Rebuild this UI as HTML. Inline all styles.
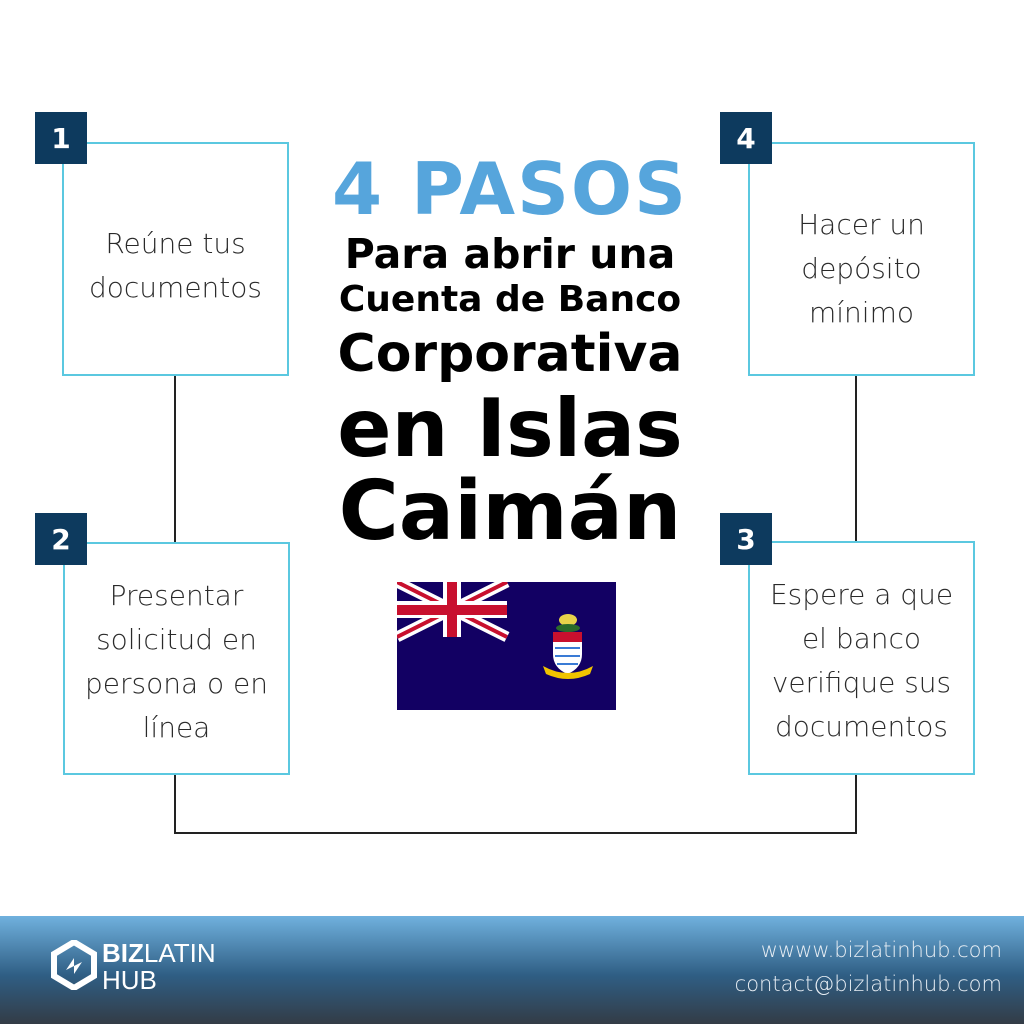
<!DOCTYPE html>
<html><head><meta charset="utf-8"><style>
body{margin:0;width:1024px;height:1024px;background:#fff;position:relative;overflow:hidden;font-family:"DejaVu Sans","Liberation Sans",sans-serif}
.box{position:absolute;border:2px solid #5bc8e0;box-sizing:border-box;display:flex;align-items:center;justify-content:center;text-align:center;color:#2a2a2a;font-size:28px;line-height:44px;font-weight:300;padding-top:14px}
.badge{position:absolute;width:52px;height:52px;background:#0d3a5e;color:#fff;font-weight:bold;font-size:28px;display:flex;align-items:center;justify-content:center}
.ln{position:absolute;background:#222}
.t{position:absolute;left:260px;width:500px;text-align:center;font-weight:bold;color:#000;white-space:nowrap;line-height:1.16}
.foot{position:absolute;left:0;top:916px;width:1024px;height:108px;background:linear-gradient(#70b1de,#2f5e84 55%,#333c46)}
</style></head><body>
<div class="ln" style="left:174px;top:376px;width:2px;height:166px"></div>
<div class="ln" style="left:855px;top:376px;width:2px;height:166px"></div>
<div class="ln" style="left:174px;top:775px;width:2px;height:59px"></div>
<div class="ln" style="left:855px;top:775px;width:2px;height:59px"></div>
<div class="ln" style="left:174px;top:832px;width:683px;height:2px"></div>

<div class="box" style="left:62px;top:142px;width:227px;height:234px">Reúne tus<br>documentos</div>
<div class="box" style="left:63px;top:542px;width:227px;height:233px;padding-top:6px">Presentar<br>solicitud en<br>persona o en<br>línea</div>
<div class="box" style="left:748px;top:142px;width:227px;height:234px;padding-top:20px">Hacer un<br>depósito<br>mínimo</div>
<div class="box" style="left:748px;top:541px;width:227px;height:234px;padding-top:6px">Espere a que<br>el banco<br>verifique sus<br>documentos</div>
<div class="badge" style="left:35px;top:112px">1</div>
<div class="badge" style="left:35px;top:513px">2</div>
<div class="badge" style="left:720px;top:112px">4</div>
<div class="badge" style="left:720px;top:513px">3</div>

<div class="t" style="top:148px;font-size:72px;color:#56a5dc;letter-spacing:2px">4 PASOS</div>
<div class="t" style="top:231px;font-size:41px">Para abrir una</div>
<div class="t" style="top:279px;font-size:36px">Cuenta de Banco</div>
<div class="t" style="top:324px;font-size:52px">Corporativa</div>
<div class="t" style="top:383px;font-size:80px">en Islas</div>
<div class="t" style="top:464px;font-size:82px">Caimán</div>

<svg style="position:absolute;left:397px;top:582px" width="219" height="128" viewBox="0 0 219 128">
<rect width="219" height="128" fill="#120063"/>
<g>
<path d="M0 0L110 55M110 0L0 55" stroke="#fff" stroke-width="11"/>
<path d="M0 0L110 55M110 0L0 55" stroke="#c8102e" stroke-width="4"/>
<rect x="0" y="19" width="110" height="17" fill="#fff"/><rect x="46" y="0" width="18" height="55" fill="#fff"/>
<rect x="0" y="23" width="110" height="10" fill="#c8102e"/><rect x="50" y="0" width="10" height="55" fill="#c8102e"/>
</g>
<ellipse cx="171" cy="38" rx="9" ry="6" fill="#e8d24a"/>
<ellipse cx="171" cy="46" rx="12" ry="4" fill="#2a6b2a"/>
<rect x="156" y="50" width="29" height="10" fill="#c8102e"/>
<path d="M156 60h29v12q0 14-14.5 20q-14.5-6-14.5-20z" fill="#fff"/>
<path d="M158 66h25M158 74h25M160 82h21" stroke="#3a7bd5" stroke-width="2"/>
<path d="M146 84q25 14 50 0l-3 8q-22 10-44 0z" fill="#f0c400"/>
</svg>

<div class="foot"></div>
<svg style="position:absolute;left:50px;top:940px" width="48" height="50" viewBox="0 0 48 50"><path d="M24 2L44 14V36L24 48L4 36V14Z" fill="none" stroke="#fff" stroke-width="6"/><path d="M16 30l8-12 0 8 8-4-8 12 0-8z" fill="#fff"/></svg>
<div style="position:absolute;left:102px;top:940px;color:#fff;font-size:26px;line-height:27px;font-family:'Liberation Sans',sans-serif"><b>BIZ</b>LATIN<br>HUB</div>
<div style="position:absolute;right:22px;top:933px;color:#e8eef4;font-size:21px;line-height:34px;text-align:right;font-weight:300">wwww.bizlatinhub.com<br>contact@bizlatinhub.com</div>
</body></html>
